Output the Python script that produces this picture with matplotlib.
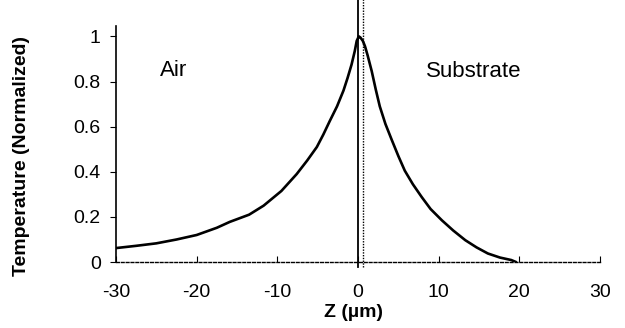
import matplotlib
matplotlib.use("Agg")
import matplotlib.pyplot as plt

plt.rcParams['font.family'] = ['Liberation Sans', 'DejaVu Sans']

# temperature profile
z_air = [-30, -27.5, -25, -22.5, -20, -17.5, -15.9, -13.5, -11.7, -9.5, -7.6, -6.3,
         -5.1, -4.3, -3.5, -2.6, -1.8, -1.3, -0.8, -0.4, -0.16, 0.1]
t_air = [0.062, 0.072, 0.083, 0.10, 0.12, 0.152, 0.178, 0.21, 0.25, 0.315, 0.39, 0.45,
         0.51, 0.565, 0.625, 0.69, 0.76, 0.815, 0.875, 0.935, 0.98, 1.0]
z_sub = [0.3, 0.6, 0.87, 1.2, 1.7, 2.2, 2.7, 3.4, 4.2, 5.0, 5.8, 6.8, 7.9, 9.0, 10.4,
         11.8, 13.3, 14.7, 16.1, 17.6, 19.0, 19.6]
t_sub = [0.995, 0.98, 0.956, 0.915, 0.846, 0.765, 0.69, 0.612, 0.54, 0.47, 0.405, 0.345,
         0.288, 0.235, 0.185, 0.14, 0.097, 0.065, 0.038, 0.02, 0.009, 0.0]

x_ticks = [-30, -20, -10, 0, 10, 20, 30]
y_ticks = [0, 0.2, 0.4, 0.6, 0.8, 1]
y_tick_labels = ['0', '0.2', '0.4', '0.6', '0.8', '1']

fig = plt.figure(figsize=(6.25, 3.28), dpi=100)
ax = fig.add_axes([0.1856, 0.201, 0.7744, 0.719])

ax.plot(z_air + z_sub, t_air + t_sub, color='black', lw=1.9,
        solid_capstyle='round', solid_joinstyle='round')

# interface lines
ax.axvline(0, ymin=-0.02, ymax=1.14, color='black', lw=1.3, clip_on=False)
ax.axvline(0.66, ymin=-0.02, ymax=1.14, color='black', lw=1.0, ls=(0, (1, 1)), clip_on=False)

ax.set_xlim(-30, 30)
ax.set_ylim(0, 1.045)

for s in ['top', 'right']:
    ax.spines[s].set_visible(False)
ax.spines['bottom'].set_linestyle((0, (2, 1.5)))
ax.spines['bottom'].set_linewidth(1.0)
ax.spines['left'].set_linestyle((0, (3, 1)))
ax.spines['left'].set_linewidth(1.2)

ax.set_xticks(x_ticks)
ax.set_xticklabels([str(v) for v in x_ticks])
ax.set_yticks(y_ticks)
ax.set_yticklabels(y_tick_labels)
ax.tick_params(axis='x', direction='in', length=4, pad=16, labelsize=14)
ax.tick_params(axis='y', direction='out', length=4, pad=7, labelsize=14)

fig.text(0.565, 0.048, 'Z (µm)', fontsize=14, fontweight='bold', ha='center', va='center')
fig.text(0.034, 0.524, 'Temperature (Normalized)', fontsize=14, fontweight='bold',
         rotation=90, ha='center', va='center')

ax.text(-24.6, 0.85, 'Air', fontsize=16, ha='left', va='center')
ax.text(8.4, 0.845, 'Substrate', fontsize=16, ha='left', va='center')

fig.savefig('out.png', dpi=100)
